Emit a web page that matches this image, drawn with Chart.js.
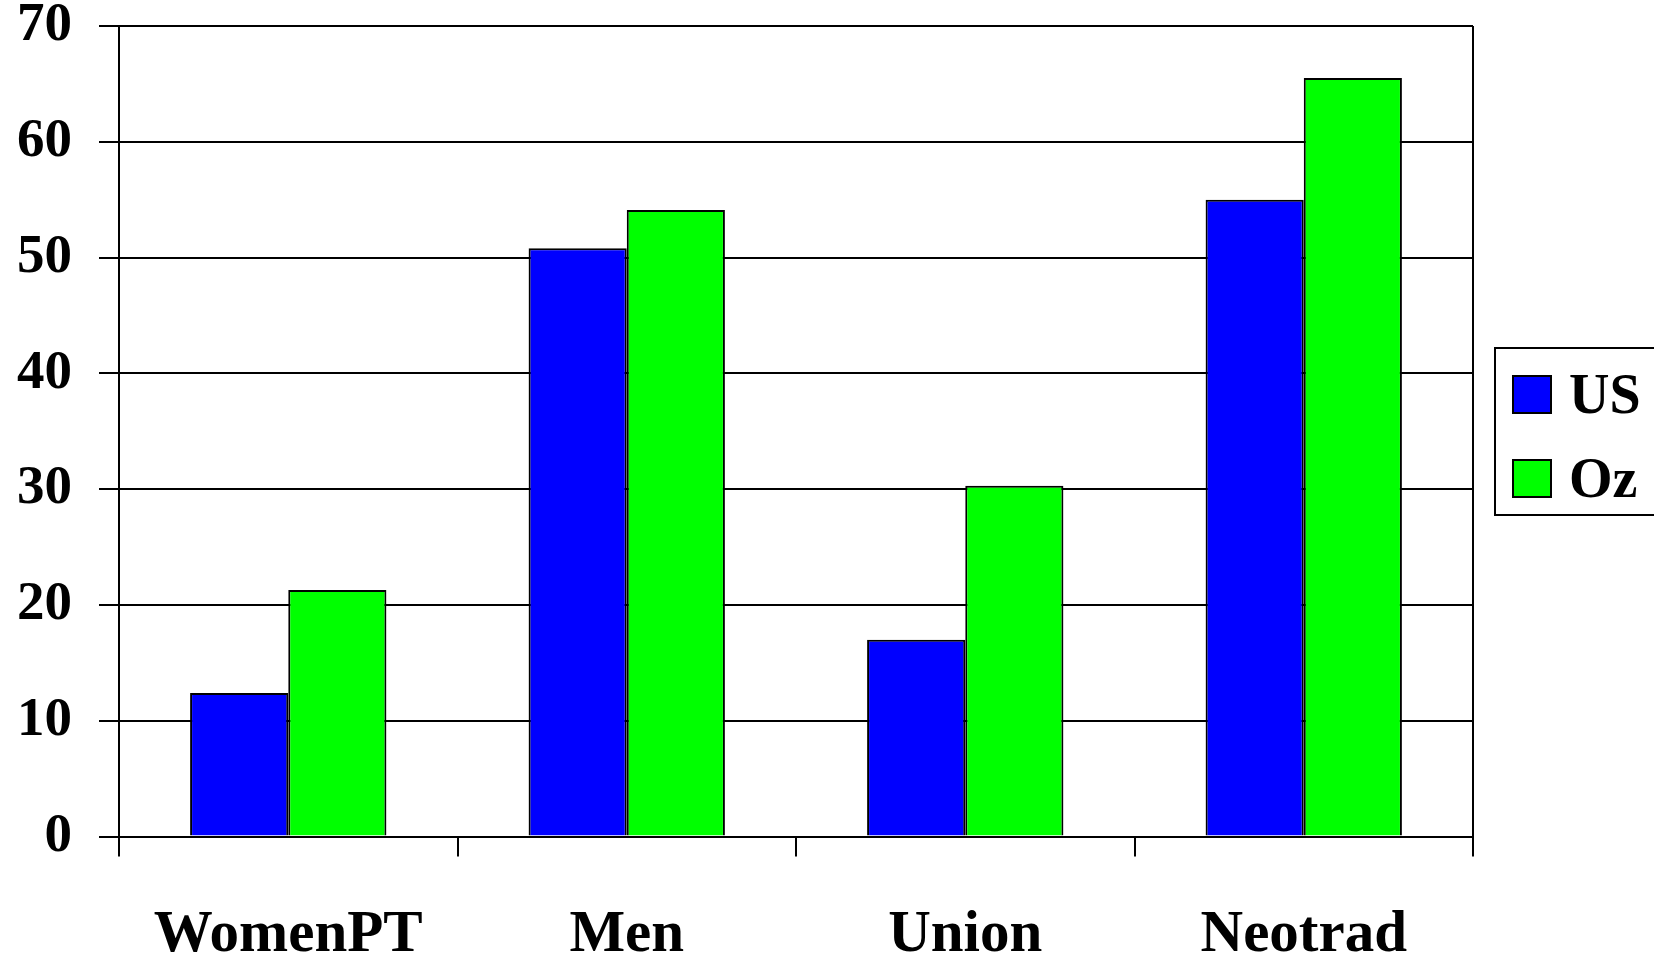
<!DOCTYPE html>
<html>
<head>
<meta charset="utf-8">
<script src="https://cdn.jsdelivr.net/npm/chart.js@4/dist/chart.umd.min.js"></script>
<style>
  html, body { margin: 0; padding: 0; background: #fff; }
  #wrap { width: 1654px; height: 959px; }
</style>
</head>
<body>
<div id="wrap"><canvas id="c" width="1654" height="959"></canvas></div>
<script>
const categories = ['WomenPT', 'Men', 'Union', 'Neotrad'];
const seriesNames = ['US', 'Oz'];
const usValues = [12.4, 50.8, 17.0, 55.0];
const ozValues = [21.3, 54.1, 30.3, 65.5];
const yTicks = [0, 10, 20, 30, 40, 50, 60, 70];

const serif = '"Liberation Serif", "Times New Roman", serif';

// Framed legend at the right edge plus the right border of the plot frame
const frameAndLegend = {
  id: 'frameAndLegend',
  afterDatasetsDraw(chart) {
    const { ctx, chartArea } = chart;
    ctx.save();
    ctx.strokeStyle = '#000';
    ctx.lineWidth = 2;
    ctx.beginPath();
    ctx.moveTo(chartArea.right, chartArea.top);
    ctx.lineTo(chartArea.right, chartArea.bottom);
    ctx.stroke();

    // legend box
    const bx = 1495, by = 348, bw = 200, bh = 167;
    ctx.lineWidth = 2;
    ctx.strokeRect(bx, by, bw, bh);
    ctx.font = 'bold 56px ' + serif;
    ctx.textBaseline = 'alphabetic';
    ctx.textAlign = 'left';
    chart.data.datasets.forEach((ds, i) => {
      const sy = 376 + i * 84;
      ctx.fillStyle = ds.backgroundColor;
      ctx.fillRect(1513, sy, 38, 37);
      ctx.strokeStyle = '#000';
      ctx.lineWidth = 2;
      ctx.strokeRect(1513, sy, 38, 37);
      ctx.fillStyle = '#000';
      ctx.fillText(ds.label, 1569, sy + 37);
    });
    ctx.restore();
  }
};

new Chart(document.getElementById('c'), {
  type: 'bar',
  data: {
    labels: categories,
    datasets: [
      { label: seriesNames[0], data: usValues, backgroundColor: '#0000ff', borderColor: '#000', borderWidth: 2 },
      { label: seriesNames[1], data: ozValues, backgroundColor: '#00ff00', borderColor: '#000', borderWidth: 2 }
    ]
  },
  options: {
    responsive: false,
    animation: false,
    devicePixelRatio: 1,
    layout: { padding: { top: 26, right: 181, left: 0, bottom: 0 } },
    datasets: { bar: { categoryPercentage: 0.58, barPercentage: 1.0 } },
    plugins: { legend: { display: false }, tooltip: { enabled: false } },
    scales: {
      x: {
        offset: true,
        grid: { offset: true, drawOnChartArea: false, tickLength: 20, color: '#000', lineWidth: 2 },
        border: { display: true, color: '#000', width: 2 },
        ticks: { color: '#000', padding: 44, maxRotation: 0, font: { family: serif, weight: 'bold', size: 59 } },
        afterFit(scale) { scale.height = 122.5; scale.paddingLeft = 0; scale.paddingRight = 0; }
      },
      y: {
        min: 0,
        max: 70,
        afterBuildTicks(scale) { scale.ticks = yTicks.map(v => ({ value: v })); },
        grid: { color: '#000', lineWidth: 2, tickLength: 20 },
        border: { display: true, color: '#000', width: 2 },
        ticks: { color: '#000', padding: 27, font: { family: serif, weight: 'bold', size: 55 } },
        afterFit(scale) { scale.width = 119; scale.paddingTop = 0; scale.paddingBottom = 0; }
      }
    }
  },
  plugins: [frameAndLegend]
});
</script>
</body>
</html>
